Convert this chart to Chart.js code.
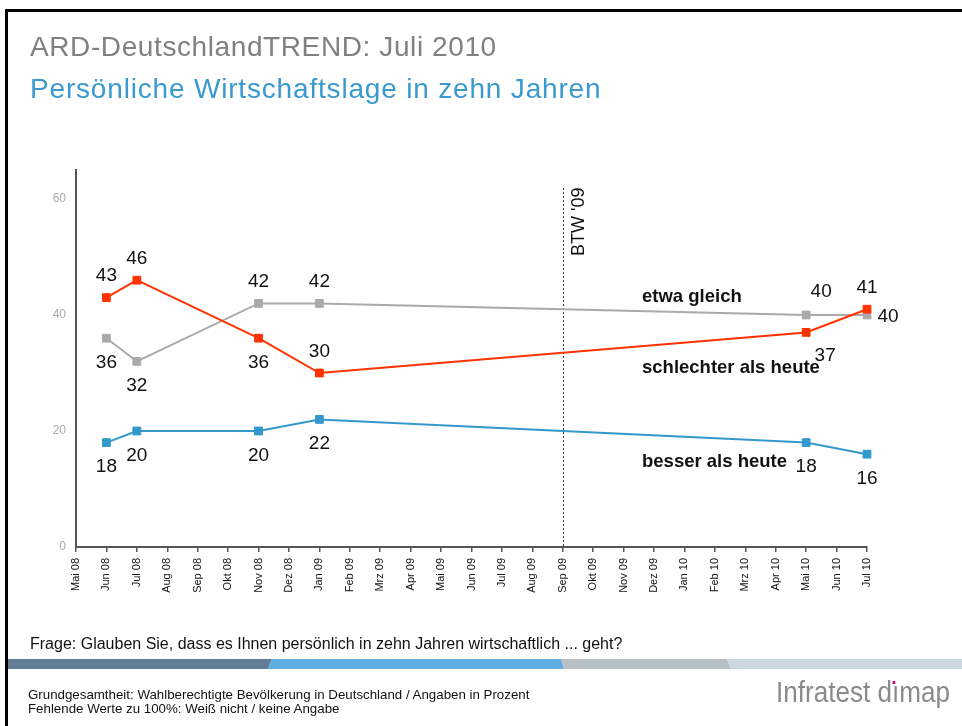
<!DOCTYPE html>
<html>
<head>
<meta charset="utf-8">
<script src="https://cdn.jsdelivr.net/npm/chart.js@4.4.1/dist/chart.umd.min.js"></script>
<style>
  html, body { margin: 0; padding: 0; background: #fff; }
  body { width: 962px; height: 726px; position: relative; overflow: hidden; font-family: "Liberation Sans", Arial, sans-serif; }
  #frame { position: absolute; left: 5px; top: 9px; right: -5px; bottom: -5px; border-left: 3px solid #000; border-top: 3px solid #000; }
  canvas { position: absolute; left: 0; top: 0; }
  .t { position: absolute; white-space: nowrap; line-height: 1; }
  #title { left: 30px; top: 33px; font-size: 28px; color: #808080; letter-spacing: 0.6px; }
  #subtitle { left: 30px; top: 75px; font-size: 28px; color: #3a9ad0; letter-spacing: 0.82px; }
  .series { left: 642px; font-size: 18.5px; font-weight: bold; color: #111; }
  #question { left: 30px; top: 636px; font-size: 16px; color: #111; }
  .foot { left: 28px; font-size: 13.3px; color: #111; }
  #logo { left: 776px; top: 677px; font-size: 30px; color: #8a8a8a; transform: scaleX(0.87); transform-origin: 0 0; }
  #logo .dot { position: relative; display: inline-block; }
  #logo .dot::after { content: ""; position: absolute; left: 1px; top: 4px; width: 3px; height: 3px; background: #e4007c; }
  svg { position: absolute; left: 0; top: 0; }
</style>
</head>
<body>
<div id="frame"></div>
<svg width="962" height="726">
  <polygon points="8,659 272,659 268,669 8,669" fill="#647e98"/>
  <polygon points="272,659 561,659 564,669 268,669" fill="#5eaedf"/>
  <polygon points="561,659 727,659 731,669 564,669" fill="#b8bfc7"/>
  <polygon points="727,659 962,659 962,669 731,669" fill="#ccd8e0"/>
</svg>
<canvas id="myChart" width="962" height="726"></canvas>
<div class="t" id="title">ARD-DeutschlandTREND: Juli 2010</div>
<div class="t" id="subtitle">Persönliche Wirtschaftslage in zehn Jahren</div>
<div class="t series" style="top:287px">etwa gleich</div>
<div class="t series" style="top:358px">schlechter als heute</div>
<div class="t series" style="top:452px">besser als heute</div>
<div class="t" id="question">Frage: Glauben Sie, dass es Ihnen persönlich in zehn Jahren wirtschaftlich ... geht?</div>
<div class="t foot" style="top:688px">Grundgesamtheit: Wahlberechtigte Bevölkerung in Deutschland / Angaben in Prozent</div>
<div class="t foot" style="top:702px">Fehlende Werte zu 100%: Weiß nicht / keine Angabe</div>
<div class="t" id="logo">Infratest d<span class="dot">ı</span>map</div>

<script>
const MONTHS = [
  'Mai 08', 'Jun 08', 'Jul 08', 'Aug 08', 'Sep 08', 'Okt 08', 'Nov 08', 'Dez 08', 'Jan 09',
  'Feb 09', 'Mrz 09', 'Apr 09', 'Mai 09', 'Jun 09', 'Jul 09', 'Aug 09', 'Sep 09', 'Okt 09',
  'Nov 09', 'Dez 09', 'Jan 10', 'Feb 10', 'Mrz 10', 'Apr 10', 'Mai 10', 'Jun 10', 'Jul 10',
];

// nur die erhobenen Monate haben Werte
const SCHLECHTER = [null, 43, 46, null, null, null, 36, null, 30, null, null, null, null, null,
  null, null, null, null, null, null, null, null, null, null, 37, null, 41];
const GLEICH = [null, 36, 32, null, null, null, 42, null, 42, null, null, null, null, null,
  null, null, null, null, null, null, null, null, null, null, 40, null, 40];
const BESSER = [null, 18, 20, null, null, null, 20, null, 22, null, null, null, null, null,
  null, null, null, null, null, null, null, null, null, null, 18, null, 16];

const Y_TICKS = [0, 20, 40, 60];
const BTW_MONTH = 'Sep 09';
const BTW_LABEL = "BTW '09";

// where each value label sits relative to its point
const LABEL_OFFSETS = {
  a: [0, -23],
  b: [0, 23],
  r: [21, 0],
  ar: [15, -25],
  br: [19, 22],
};
const PLACES = {
  schlechter: { 1: 'a', 2: 'a', 6: 'b', 8: 'a', 24: 'br', 26: 'a' },
  gleich: { 1: 'b', 2: 'b', 6: 'a', 8: 'a', 24: 'ar', 26: 'r' },
  besser: { 1: 'b', 2: 'b', 6: 'b', 8: 'b', 24: 'b', 26: 'b' },
};

const FONT = '"Liberation Sans", Arial, sans-serif';

const valueLabels = {
  id: 'valueLabels',
  afterDatasetsDraw(chart) {
    const ctx = chart.ctx;
    ctx.save();
    ctx.font = `19px ${FONT}`;
    ctx.fillStyle = '#111';
    ctx.textAlign = 'center';
    ctx.textBaseline = 'alphabetic';
    chart.data.datasets.forEach((ds, i) => {
      const meta = chart.getDatasetMeta(i);
      meta.data.forEach((pt, j) => {
        const v = ds.data[j];
        if (v == null) return;
        const [dx, dy] = LABEL_OFFSETS[PLACES[ds.key][j]];
        ctx.fillText(String(v), pt.x + dx, pt.y + dy + 6.8);
      });
    });
    ctx.restore();
  },
};

const btwLine = {
  id: 'btwLine',
  beforeDatasetsDraw(chart) {
    const { ctx, chartArea, scales } = chart;
    const x = Math.round(scales.x.getPixelForValue(MONTHS.indexOf(BTW_MONTH))) + 0.5;
    ctx.save();
    ctx.strokeStyle = '#333';
    ctx.lineWidth = 1;
    ctx.setLineDash([2, 2]);
    ctx.beginPath();
    ctx.moveTo(x, chartArea.top + 18);
    ctx.lineTo(x, chartArea.bottom);
    ctx.stroke();
    ctx.setLineDash([]);
    ctx.translate(x + 20, chartArea.top + 86);
    ctx.rotate(-Math.PI / 2);
    ctx.font = `18px ${FONT}`;
    ctx.fillStyle = '#111';
    ctx.textAlign = 'left';
    ctx.textBaseline = 'alphabetic';
    ctx.fillText(BTW_LABEL, 0, 0);
    ctx.restore();
  },
};

function series(key, data, color) {
  return {
    key,
    data,
    borderColor: color,
    backgroundColor: color,
    borderWidth: 2,
    pointStyle: 'rect',
    pointRadius: 5.5,
    pointBorderWidth: 1,
    spanGaps: true,
    tension: 0,
  };
}

new Chart(document.getElementById('myChart').getContext('2d'), {
  type: 'line',
  data: {
    labels: MONTHS,
    datasets: [
      series('schlechter', SCHLECHTER, '#ff3300'),
      series('gleich', GLEICH, '#aaaaaa'),
      series('besser', BESSER, '#3399cc'),
    ],
  },
  options: {
    responsive: false,
    animation: false,
    devicePixelRatio: 1,
    layout: { padding: { left: 0, top: 170, right: 95, bottom: 0 } },
    plugins: { legend: { display: false }, tooltip: { enabled: false } },
    scales: {
      x: {
        offset: false,
        border: { color: '#555', width: 2 },
        grid: { drawOnChartArea: false, tickLength: 5, color: '#555', lineWidth: 1.5 },
        ticks: {
          autoSkip: false,
          minRotation: 90,
          maxRotation: 90,
          padding: 6,
          color: '#111',
          font: { family: FONT, size: 11 },
        },
        afterFit(scale) { scale.height = 179; },
      },
      y: {
        min: 0,
        max: 65,
        border: { color: '#555', width: 2 },
        grid: { display: false, drawTicks: false },
        afterBuildTicks(scale) { scale.ticks = Y_TICKS.map(value => ({ value })); },
        ticks: { padding: 10, color: '#aaa', font: { family: FONT, size: 12 } },
        afterFit(scale) { scale.width = 76; },
      },
    },
  },
  plugins: [btwLine, valueLabels],
});
</script>
</body>
</html>
